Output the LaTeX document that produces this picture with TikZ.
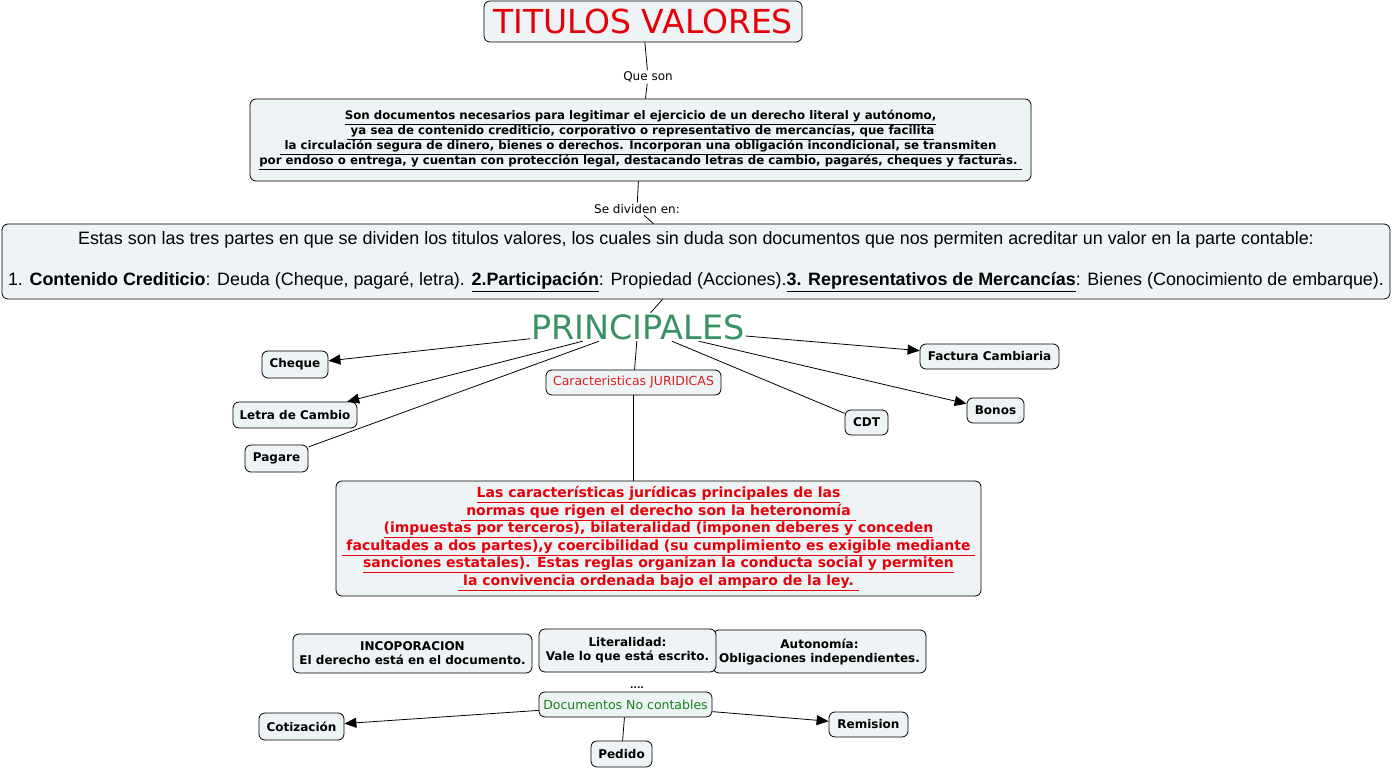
\documentclass[tikz,border=0pt]{standalone}
\usepackage{fontspec}
\setmainfont{DejaVu Sans}
\newfontfamily\arialf{Liberation Sans}
\usetikzlibrary{arrows.meta}
\definecolor{boxfill}{RGB}{238,243,245}
\definecolor{titlered}{RGB}{230,0,10}
\definecolor{cjred}{RGB}{220,30,30}
\definecolor{princgreen}{RGB}{58,146,100}
\definecolor{docgreen}{RGB}{20,130,20}
\newcommand\myul[1]{\underline{#1}}
\newcommand\fs[2]{\fontsize{#1}{#2}\selectfont}
\begin{document}
\begin{tikzpicture}[x=1pt,y=-1pt,
  box/.style={draw=black, fill=boxfill, rounded corners=6pt, line width=0.8pt, inner sep=2pt, align=center},
  small/.style={box, font=\fs{12}{14}\bfseries},
  lbl/.style={font=\fs{12}{14}, inner sep=1.5pt},
  conn/.style={line width=0.8pt},
  arr/.style={conn, -{Triangle[length=12pt,width=10pt]}}]
\useasboundingbox (0,0) rectangle (1393,770);

\node[box, minimum width=318, minimum height=41, inner sep=0, font=\fs{33}{36}, text=titlered] (title) at (643,21.5) {TITULOS VALORES};
\node[lbl] (queson) at (648,77) {Que son};
\node[box, minimum width=781, minimum height=82, font=\fs{11.8}{15}\bfseries] (b1) at (640.5,140) {%
\myul{Son documentos necesarios para legitimar el ejercicio de un derecho literal y autónomo,}\\
\myul{\ ya sea de contenido crediticio, corporativo o representativo de mercancías, que facilita}\\
\myul{\ la circulación segura de dinero, bienes o derechos. Incorporan una obligación incondicional, se transmiten\ }\\
\myul{por endoso o entrega, y cuentan con protección legal, destacando letras de cambio, pagarés, cheques y facturas.\ }};
\node[lbl] (sediv) at (637,209) {Se dividen en:};
\node[box, minimum width=1388, minimum height=75, font=\arialf\fs{17.9}{20.5}] (b2) at (696,261.5) {%
Estas son las tres partes en que se dividen los titulos valores, los cuales sin duda son documentos que nos permiten acreditar un valor en la parte contable:\\[20.5pt]
1. \textbf{Contenido Crediticio}: Deuda (Cheque, pagaré, letra). \textbf{\myul{2.Participación}}: Propiedad (Acciones).\textbf{\myul{3. Representativos de Mercancías}}: Bienes (Conocimiento de embarque).};
\node[minimum width=215, minimum height=28, inner sep=0, font=\fs{33.5}{36}, text=princgreen] (princ) at (638,327) {PRINCIPALES};

\node[small, minimum width=66, minimum height=27] (cheque) at (295,364.5) {Cheque};
\node[small, minimum width=124, minimum height=26] (letra) at (295,415) {Letra de Cambio};
\node[small, minimum width=63, minimum height=27] (pagare) at (276.5,458.5) {Pagare};
\node[box, minimum width=175, minimum height=25, font=\fs{12.5}{14}, text=cjred] (cj) at (633.5,382.5) {Caracteristicas JURIDICAS};
\node[small, minimum width=43, minimum height=25] (cdt) at (866.5,422.5) {CDT};
\node[small, minimum width=139, minimum height=25] (fact) at (989.5,356.5) {Factura Cambiaria};
\node[small, minimum width=57, minimum height=25] (bonos) at (995.5,410.5) {Bonos};

\node[box, minimum width=645, minimum height=115, font=\fs{14}{17.5}\bfseries, text=titlered] (big) at (658.5,538.5) {%
\myul{Las características jurídicas principales de las}\\
\myul{\ normas que rigen el derecho son la heteronomía\ }\\
\myul{(impuestas por terceros), bilateralidad (imponen deberes y conceden}\\
\myul{\ facultades a dos partes),y coercibilidad (su cumplimiento es exigible mediante\ }\\
\myul{sanciones estatales). Estas reglas organizan la conducta social y permiten}\\
\myul{\ la convivencia ordenada bajo el amparo de la ley.\ }};

\node[small, minimum width=239, minimum height=39, font=\fs{12}{14}\bfseries] (inc) at (412.5,653.5) {INCOPORACION\\El derecho está en el documento.};
\node[small, minimum width=213, minimum height=43, font=\fs{12}{14}\bfseries] (aut) at (819.5,651.5) {Autonomía:\\Obligaciones independientes.};
\node[small, minimum width=177, minimum height=43, font=\fs{12}{14}\bfseries] (lit) at (627.5,650.5) {Literalidad:\\Vale lo que está escrito.};

\node[font=\fs{9}{10}\bfseries, inner sep=0] (dots) at (637,688) {....};
\node[box, minimum width=173, minimum height=25, font=\fs{12.5}{14}, text=docgreen] (doc) at (625.5,704.5) {Documentos No contables};
\node[small, minimum width=85, minimum height=27] (cot) at (301.5,726.5) {Cotización};
\node[small, minimum width=79, minimum height=25] (rem) at (868.5,724.5) {Remision};
\node[small, minimum width=61, minimum height=26] (ped) at (621.5,754) {Pedido};

\draw[conn] (title) -- (queson);
\draw[conn] (queson) -- (b1);
\draw[conn] (b1) -- (sediv);
\draw[conn] (sediv) -- (b2);
\draw[conn] (b2) -- (princ);
\draw[arr] (princ) -- (cheque);
\draw[arr] (princ) -- (letra);
\draw[conn] (princ) -- (pagare);
\draw[conn] (princ) -- (cj);
\draw[conn] (princ) -- (cdt);
\draw[arr] (princ) -- (fact);
\draw[arr] (princ) -- (bonos);
\draw[conn] (cj.south) -- (cj.south |- big.north);
\draw[arr] (doc) -- (cot);
\draw[arr] (doc) -- (rem);
\draw[conn] (doc) -- (ped);
\end{tikzpicture}
\end{document}
